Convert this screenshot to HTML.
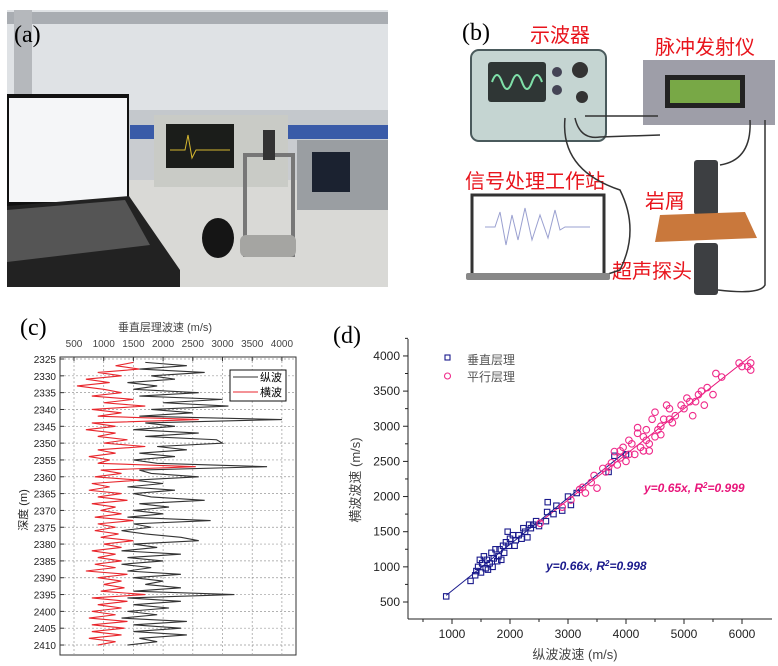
<!DOCTYPE html>
<html><head><meta charset="utf-8"><style>
body{margin:0;background:#fff;font-family:"Liberation Sans","Noto Sans CJK SC",sans-serif}
#root{position:relative;width:778px;height:666px;overflow:hidden;background:#fff}
svg text{font-family:"Liberation Sans","Noto Sans CJK SC",sans-serif}
.lab{font-family:"Liberation Serif","Noto Serif CJK SC",serif;font-size:24px}
</style></head><body>
<div id="root">
<svg width="778" height="666" viewBox="0 0 778 666">
<!-- (a) photo approximation -->
<g>
<rect x="7" y="10" width="381" height="277" fill="#c9ccd0"/>
<rect x="7" y="10" width="381" height="100" fill="#dfe2e5"/>
<rect x="7" y="110" width="381" height="20" fill="#c4c8cc"/>
<rect x="7" y="12" width="381" height="12" fill="#a9adb2"/>
<rect x="14" y="10" width="18" height="170" fill="#b5b8bc"/>
<rect x="130" y="125" width="258" height="14" fill="#3a5ba8"/>
<rect x="7" y="180" width="381" height="107" fill="#d9d9d6"/>
<rect x="7" y="94" width="122" height="112" fill="#111"/>
<rect x="9" y="98" width="118" height="104" fill="#f5f6f8"/>
<path d="M7 206 L129 196 L180 270 L180 287 L7 287Z" fill="#222"/>
<path d="M7 210 L125 200 L150 245 L7 262Z" fill="#555"/>
<rect x="154" y="115" width="134" height="72" fill="#c9cbc6"/>
<rect x="166" y="124" width="68" height="44" fill="#1b1d1a"/>
<path d="M170 150 L185 150 L188 135 L192 158 L196 150 L230 150" stroke="#d6b830" fill="none"/>
<rect x="297" y="140" width="91" height="70" fill="#9a9ea2"/>
<rect x="312" y="152" width="38" height="40" fill="#1b2230"/>
<rect x="245" y="155" width="48" height="100" fill="none" stroke="#777" stroke-width="4"/>
<rect x="240" y="235" width="56" height="22" rx="6" fill="#a5a5a2"/>
<rect x="263" y="130" width="12" height="30" fill="#333"/>
<ellipse cx="218" cy="238" rx="16" ry="20" fill="#151515"/>
<text x="14" y="42" class="lab">(a)</text>
</g>
<!-- (b) schematic -->
<g>
<text x="462" y="40" class="lab">(b)</text>
<text x="530" y="42" font-size="20" fill="#e8141c">示波器</text>
<text x="655" y="54" font-size="20" fill="#e8141c">脉冲发射仪</text>
<text x="465" y="188" font-size="20" fill="#e8141c">信号处理工作站</text>
<text x="645" y="208" font-size="20" fill="#e8141c">岩屑</text>
<text x="612" y="278" font-size="20" fill="#e8141c">超声探头</text>
<rect x="471" y="50" width="135" height="91" rx="8" fill="#c5d5d2" stroke="#4a5a5c" stroke-width="2"/>
<rect x="488" y="62" width="58" height="40" rx="3" fill="#2f3635"/>
<path d="M492 82 q5 -14 10 0 t10 0 t10 0 t10 0 t10 0" stroke="#7fe0a8" stroke-width="2" fill="none"/>
<circle cx="580" cy="70" r="8" fill="#333"/><circle cx="557" cy="72" r="5" fill="#445"/><circle cx="557" cy="90" r="5" fill="#445"/><circle cx="582" cy="97" r="6" fill="#333"/>
<rect x="643" y="60" width="132" height="65" fill="#9e9ea8"/>
<rect x="665" y="75" width="80" height="33" fill="#222"/>
<rect x="670" y="80" width="70" height="23" fill="#78a846"/>
<g fill="none" stroke="#333" stroke-width="1.5">
<path d="M585 116 L658 116"/><path d="M575 118 Q580 140 600 137 L660 135"/><path d="M565 118 Q560 170 620 190 Q640 230 620 270 L605 275"/>
<path d="M750 120 Q752 160 720 165"/><path d="M765 120 L765 285 Q760 295 718 290"/></g>
<rect x="472" y="195" width="132" height="80" fill="#fff" stroke="#333" stroke-width="3"/>
<rect x="466" y="273" width="144" height="7" rx="2" fill="#888"/>
<path d="M485 227 L495 227 L500 212 L506 245 L512 215 L518 240 L525 208 L532 240 L540 215 L548 238 L555 210 L560 230 L565 227 L590 227" stroke="#9aa0d0" fill="none"/>
<rect x="694" y="160" width="24" height="55" rx="3" fill="#3d3f42"/>
<path d="M660 215 L745 212 L757 238 L655 242Z" fill="#c9783c"/>
<rect x="694" y="243" width="24" height="52" rx="3" fill="#3d3f42"/>
</g>
<g id="chartC"></g>
<g id="chartD"></g>
</svg>
</div>
<script>
const NS='http://www.w3.org/2000/svg';
function mk(p,t,a){const e=document.createElementNS(NS,t);for(const k in a)e.setAttribute(k,a[k]);p.appendChild(e);return e;}
// ---------- chart (c) data ----------
const depths=[2326,2327,2328,2329,2330,2331,2332,2333,2334,2335,2336,2337,2338,2339,2340,2341,2342,2343,2344,2345,2346,2347,2348,2349,2350,2351,2352,2353,2354,2355,2356,2357,2358,2359,2360,2361,2362,2363,2364,2365,2366,2367,2368,2369,2370,2371,2372,2373,2374,2375,2376,2377,2378,2379,2380,2381,2382,2383,2384,2385,2386,2387,2388,2389,2390,2391,2392,2393,2394,2395,2396,2397,2398,2399,2400,2401,2402,2403,2404,2405,2406,2407,2408,2409,2410];
const pWave=[1700,2400,1600,2700,1800,2200,1400,1900,1500,2600,1600,3000,2000,3100,1800,2500,1600,4000,1700,2200,1500,2600,1700,2900,3000,1900,2400,1600,2200,1500,1900,3750,1600,1800,2600,1500,2000,1400,2200,1500,1800,2700,1600,2100,1500,2000,1400,2800,1500,1800,1300,1700,2300,2600,1500,1900,1300,2300,1400,2000,1300,1800,1400,2300,1500,2000,1700,2300,1500,3200,1400,2300,1500,2100,1400,1900,1300,2400,1500,2300,1500,2400,1600,1900,1400];
const sWave=[1500,1200,1600,900,1300,700,1100,550,1000,1300,800,1500,1000,1700,800,1300,900,2600,800,1200,700,1200,900,1400,1000,1700,900,1200,750,1100,900,2550,950,1300,850,1600,800,1100,750,1300,900,1400,800,1200,950,1300,850,1500,900,1200,850,1250,950,1500,1000,1300,800,1200,900,1300,850,1200,700,1400,900,1300,1000,1350,950,1700,800,1400,900,1300,800,1200,750,1400,800,1350,800,1300,750,1200,900];
const cXTicks=[500,1000,1500,2000,2500,3000,3500,4000];
const cYTicks=[2325,2330,2335,2340,2345,2350,2355,2360,2365,2370,2375,2380,2385,2390,2395,2400,2405,2410];
const cx=v=>74+(v-500)*0.0594, cy=d=>359+(d-2325)*3.365;
const C=document.getElementById('chartC');
mk(C,'text',{x:20,y:335,class:'lab'}).textContent='(c)';
mk(C,'rect',{x:60,y:357,width:236,height:298,fill:'none',stroke:'#333','stroke-width':1});
cYTicks.forEach(d=>{const y=cy(d);
 const g=mk(C,'line',{x1:60,x2:296,y1:y,y2:y,stroke:'#999','stroke-dasharray':'2,2','stroke-width':0.7});
 
 mk(C,'line',{x1:60,x2:64,y1:y,y2:y,stroke:'#333'});
 const t=mk(C,'text',{x:56,y:y+4,'text-anchor':'end','font-size':10,fill:'#222'});t.textContent=d;
 });
cXTicks.forEach(v=>{const x=cx(v);
 mk(C,'line',{x1:x,x2:x,y1:357,y2:655,stroke:'#999','stroke-dasharray':'2,2','stroke-width':0.7});
 mk(C,'line',{x1:x,x2:x,y1:357,y2:361,stroke:'#333'});
 const t=mk(C,'text',{x:x,y:347,'text-anchor':'middle','font-size':10,fill:'#444'});t.textContent=v;
 });
const ct=mk(C,'text',{x:165,y:331,'text-anchor':'middle','font-size':11,fill:'#444'});ct.textContent='垂直层理波速 (m/s)';

const cyl=mk(C,'text',{x:0,y:0,'text-anchor':'middle','font-size':11,fill:'#222',transform:'translate(27,510) rotate(-90)'});cyl.textContent='深度 (m)';

function polyC(arr,col,name){const p=mk(C,'polyline',{points:arr.map((v,i)=>cx(v)+','+cy(depths[i])).join(' '),fill:'none',stroke:col,'stroke-width':1.1});
 }
polyC(pWave,'#333','p-wave-line');polyC(sWave,'#e8262c','s-wave-line');
const lg=mk(C,'g',{});
mk(lg,'rect',{x:230,y:370,width:56,height:31,fill:'#fff',stroke:'#111'});
mk(lg,'line',{x1:233,x2:258,y1:377,y2:377,stroke:'#333'});mk(lg,'line',{x1:233,x2:258,y1:392,y2:392,stroke:'#e8262c'});
mk(lg,'text',{x:260,y:381,'font-size':11}).textContent='纵波';mk(lg,'text',{x:260,y:396,'font-size':11}).textContent='横波';
// ---------- chart (d) data ----------
const vertVp=[900,1320,1400,1420,1450,1480,1500,1520,1550,1580,1600,1620,1650,1680,1700,1720,1750,1780,1800,1820,1850,1880,1900,1930,1960,1980,2000,2050,2080,2100,2150,2200,2230,2260,2300,2330,2360,2400,2450,2500,2620,2640,2650,2750,2800,2900,3000,3050,3150,3700,3800,4000];
const vertVs=[580,800,880,940,1000,1100,920,1050,1150,980,1100,960,1050,1200,1000,1120,1250,1080,1150,1250,1100,1300,1200,1350,1500,1300,1400,1450,1300,1380,1450,1400,1550,1500,1420,1600,1550,1600,1650,1580,1650,1780,1920,1750,1870,1800,2000,1880,2050,2350,2580,2600];
const parVp=[2520,2900,3050,3200,3250,3300,3400,3450,3500,3600,3650,3700,3750,3800,3850,3900,3950,4000,4050,4100,4150,4200,4250,4300,4300,4350,4400,4400,4450,4500,4500,4550,4600,4650,4700,4750,4750,4800,4850,4950,5000,5050,5100,5150,5200,5250,5300,5350,5400,5500,5550,5650,5950,6000,6100,6150,6150,4200,4350,3900,4600,4050];
const parVs=[1620,1850,1950,2100,2130,2050,2200,2300,2120,2400,2350,2420,2480,2640,2450,2550,2700,2500,2800,2750,2600,2980,2700,2850,2650,2950,2750,2650,3100,2850,3200,2950,3000,3100,3300,3100,3250,3050,3150,3300,3250,3400,3350,3150,3350,3450,3500,3300,3550,3450,3750,3700,3900,3850,3850,3900,3800,2900,2800,2650,2880,2600];
const fitSlopes=[0.66,0.65];
const fitRanges=[[900,4000],[2500,6150]];
const dXTicks=[1000,2000,3000,4000,5000,6000];
const dYTicks=[500,1000,1500,2000,2500,3000,3500,4000];
const dx=v=>452+(v-1000)*0.058, dy=v=>602-(v-500)*0.0703;
const D=document.getElementById('chartD');
mk(D,'text',{x:333,y:343,class:'lab'}).textContent='(d)';
mk(D,'line',{x1:408,x2:408,y1:339,y2:619,stroke:'#222'});
mk(D,'line',{x1:408,x2:772,y1:619,y2:619,stroke:'#222'});
dXTicks.forEach(v=>{const x=dx(v);mk(D,'line',{x1:x,x2:x,y1:619,y2:624,stroke:'#222'});
 mk(D,'line',{x1:x-29,x2:x-29,y1:619,y2:622,stroke:'#222'});
 const t=mk(D,'text',{x:x,y:638,'text-anchor':'middle','font-size':12,fill:'#222'});t.textContent=v;
 });
dYTicks.forEach(v=>{const y=dy(v);mk(D,'line',{x1:403,x2:408,y1:y,y2:y,stroke:'#222'});
 mk(D,'line',{x1:405,x2:408,y1:y-17.6,y2:y-17.6,stroke:'#222'});
 const t=mk(D,'text',{x:400,y:y+4,'text-anchor':'end','font-size':12,fill:'#222'});t.textContent=v;
 });
const dxt=mk(D,'text',{x:575,y:659,'text-anchor':'middle','font-size':13,fill:'#444'});dxt.textContent='纵波波速 (m/s)';

const dyt=mk(D,'text',{x:0,y:0,'text-anchor':'middle','font-size':13,fill:'#444',transform:'translate(360,480) rotate(-90)'});dyt.textContent='横波波速 (m/s)';

const fitCols=['#1a1a8c','#e8157a'];
fitSlopes.forEach((s,i)=>{const r=fitRanges[i];const l=mk(D,'line',{x1:dx(r[0]),y1:dy(r[0]*s),x2:dx(r[1]),y2:dy(r[1]*s),stroke:fitCols[i],'stroke-width':1});
 });
vertVp.forEach((v,i)=>{const r=mk(D,'rect',{x:dx(v)-2.7,y:dy(vertVs[i])-2.7,width:5.4,height:5.4,fill:'none',stroke:'#1a1a8c','stroke-width':1.1});
 });
parVp.forEach((v,i)=>{const c=mk(D,'circle',{cx:dx(v),cy:dy(parVs[i]),r:3.3,fill:'none',stroke:'#ef2a8a','stroke-width':1.1});
 });
const dl=mk(D,'g',{});
mk(dl,'rect',{x:445,y:355,width:5,height:5,fill:'none',stroke:'#1a1a8c','stroke-width':1.1});
mk(dl,'circle',{cx:447.5,cy:376,r:3,fill:'none',stroke:'#ef2a8a','stroke-width':1.1});
mk(dl,'text',{x:467,y:364,'font-size':12,fill:'#555'}).textContent='垂直层理';
mk(dl,'text',{x:467,y:381,'font-size':12,fill:'#555'}).textContent='平行层理';
const e1=mk(D,'text',{x:644,y:492,'font-size':12,'font-weight':'bold','font-style':'italic',fill:'#e8157a'});e1.innerHTML='y=0.65x, R<tspan dy="-4" font-size="8">2</tspan><tspan dy="4">=0.999</tspan>';

const e2=mk(D,'text',{x:546,y:570,'font-size':12,'font-weight':'bold','font-style':'italic',fill:'#1a1a8c'});e2.innerHTML='y=0.66x, R<tspan dy="-4" font-size="8">2</tspan><tspan dy="4">=0.998</tspan>';

</script>
</body></html>
